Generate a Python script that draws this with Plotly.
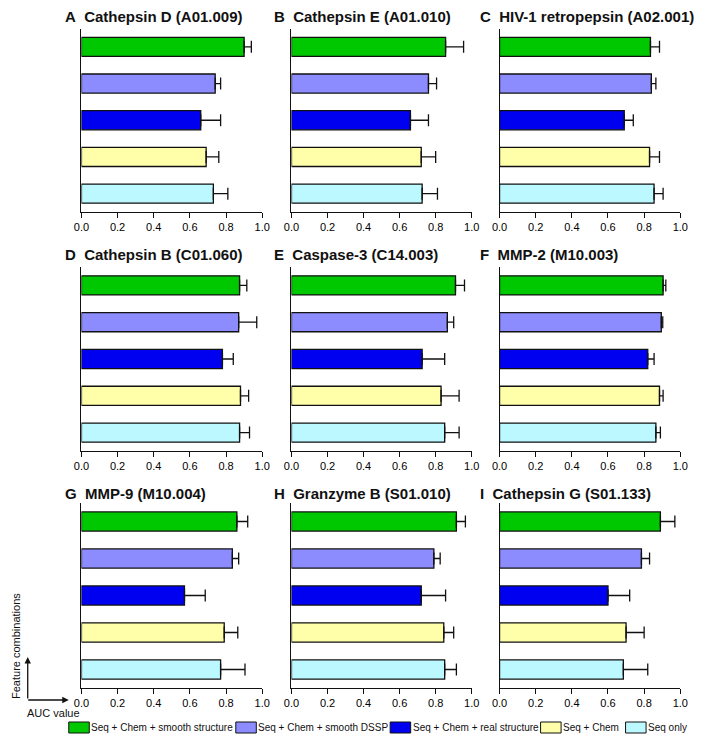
import plotly.graph_objects as go
from plotly.subplots import make_subplots

W, H = 708, 742
PAD = 8  # default page margin around the plot div

combos = ["Seq + Chem + smooth structure", "Seq + Chem + smooth DSSP",
          "Seq + Chem + real structure", "Seq + Chem", "Seq only"]
colors = ["#00c800", "#8c8cff", "#0000f0", "#ffffaa", "#bcf8ff"]

panel_titles = ["A\u00a0 Cathepsin D (A01.009)", "B\u00a0 Cathepsin E (A01.010)",
                "C\u00a0 HIV-1 retropepsin (A02.001)", "D\u00a0 Cathepsin B (C01.060)",
                "E\u00a0 Caspase-3 (C14.003)", "F\u00a0 MMP-2 (M10.003)",
                "G\u00a0 MMP-9 (M10.004)", "H\u00a0 Granzyme B (S01.010)",
                "I\u00a0 Cathepsin G (S01.133)"]

# AUC values per panel, in combos order
auc_A = [0.90, 0.74, 0.66, 0.69, 0.73]
auc_B = [0.855, 0.76, 0.66, 0.72, 0.725]
auc_C = [0.835, 0.84, 0.69, 0.83, 0.855]
auc_D = [0.875, 0.87, 0.78, 0.88, 0.875]
auc_E = [0.91, 0.865, 0.725, 0.83, 0.85]
auc_F = [0.905, 0.895, 0.82, 0.885, 0.865]
auc_G = [0.86, 0.835, 0.57, 0.79, 0.77]
auc_H = [0.915, 0.79, 0.72, 0.845, 0.85]
auc_I = [0.89, 0.785, 0.60, 0.70, 0.685]

# error bar (upper) lengths
err_A = [0.04, 0.03, 0.11, 0.07, 0.08]
err_B = [0.10, 0.045, 0.10, 0.08, 0.085]
err_C = [0.05, 0.025, 0.05, 0.055, 0.05]
err_D = [0.04, 0.10, 0.06, 0.045, 0.055]
err_E = [0.05, 0.035, 0.125, 0.10, 0.08]
err_F = [0.015, 0.008, 0.035, 0.02, 0.025]
err_G = [0.06, 0.035, 0.115, 0.075, 0.135]
err_H = [0.05, 0.035, 0.135, 0.055, 0.065]
err_I = [0.08, 0.045, 0.12, 0.10, 0.135]

tick_vals = [0, 0.2, 0.4, 0.6, 0.8, 1.0]
tick_text = ["0.0", "0.2", "0.4", "0.6", "0.8", "1.0"]

aucs = [auc_A, auc_B, auc_C, auc_D, auc_E, auc_F, auc_G, auc_H, auc_I]
errs = [err_A, err_B, err_C, err_D, err_E, err_F, err_G, err_H, err_I]

FONT = "Arial, 'Liberation Sans', sans-serif"
FW, FH = W - 2 * PAD, H - 2 * PAD

def fx(px):
    return (px - PAD) / FW

def fy(py):
    return 1 - (py - PAD) / FH

# pixel layout of the plotting areas (window coordinates)
col_x = [(75, 260), (290, 474.5), (503, 688)]
row_y = [(28.5, 212), (267, 451), (503, 688)]
title_y = [16, 255, 493]
title_dx = [19, 20, 22]

fig = make_subplots(rows=3, cols=3)

for i in range(9):
    r, c = i // 3, i % 3
    fig.add_trace(go.Bar(
        x=aucs[i], y=combos, orientation="h", width=0.52,
        marker=dict(color=colors, line=dict(color="#111", width=1.3)),
        error_x=dict(type="data", symmetric=False, array=errs[i],
                     arrayminus=[0] * 5, color="#111", thickness=1.3, width=6),
        showlegend=False, hoverinfo="x+y"), row=r + 1, col=c + 1)
    k = "" if i == 0 else str(i + 1)
    fig.layout["xaxis" + k].update(
        domain=[fx(col_x[c][0]), fx(col_x[c][1])], range=[0, 1.0],
        tickvals=tick_vals, ticktext=tick_text, ticks="outside", ticklen=5,
        tickwidth=1.3, tickcolor="#111", showline=True, linecolor="#111",
        linewidth=1.3, showgrid=False, zeroline=False, fixedrange=True,
        tickfont=dict(size=11, color="#000", family=FONT))
    fig.layout["yaxis" + k].update(
        domain=[fy(row_y[r][1]), fy(row_y[r][0])], range=[4.5, -0.5],
        showticklabels=False, showline=True, linecolor="#111", linewidth=1.3,
        showgrid=False, zeroline=False, ticks="")
    fig.add_annotation(
        x=fx(col_x[c][0] - title_dx[c]), y=fy(title_y[r]), xref="paper",
        yref="paper", xanchor="left", yanchor="middle", showarrow=False,
        text="<b>" + panel_titles[i] + "</b>",
        font=dict(size=15, color="#111", family=FONT))

# corner arrows (tail offsets in pixels)
fig.add_annotation(x=fx(20), y=fy(657), xref="paper", yref="paper",
                   ax=0, ay=43, axref="pixel", ayref="pixel",
                   text="", showarrow=True, arrowhead=2, arrowsize=1,
                   arrowwidth=1.3, arrowcolor="#111")
fig.add_annotation(x=fx(62), y=fy(700), xref="paper", yref="paper",
                   ax=-42, ay=0, axref="pixel", ayref="pixel",
                   text="", showarrow=True, arrowhead=2, arrowsize=1,
                   arrowwidth=1.3, arrowcolor="#111")
fig.add_annotation(x=fx(8), y=fy(646), xref="paper", yref="paper",
                   xanchor="center", yanchor="middle",
                   text="Feature combinations", textangle=-90, showarrow=False,
                   font=dict(size=11, color="#111", family=FONT))
fig.add_annotation(x=fx(17), y=fy(713), xref="paper", yref="paper",
                   xanchor="left", yanchor="middle", text="AUC value",
                   showarrow=False,
                   font=dict(size=11, color="#111", family=FONT))

# legend drawn as boxes + labels
box_x = [62, 233, 391, 545, 632]
for j in range(5):
    fig.add_shape(type="rect", xref="paper", yref="paper",
                  x0=fx(box_x[j]), x1=fx(box_x[j] + 21),
                  y0=fy(733), y1=fy(722),
                  fillcolor=colors[j], line=dict(color="#111", width=1))
    fig.add_annotation(x=fx(box_x[j] + 21), y=fy(727.5), xref="paper",
                       yref="paper", xanchor="left", yanchor="middle",
                       showarrow=False, text=combos[j],
                       font=dict(size=10, color="#111", family=FONT))

fig.update_layout(width=FW, height=FH, margin=dict(l=0, r=0, t=0, b=0),
                  plot_bgcolor="white", paper_bgcolor="white",
                  font=dict(family=FONT), bargap=0.48)

fig.write_html("out.html")
